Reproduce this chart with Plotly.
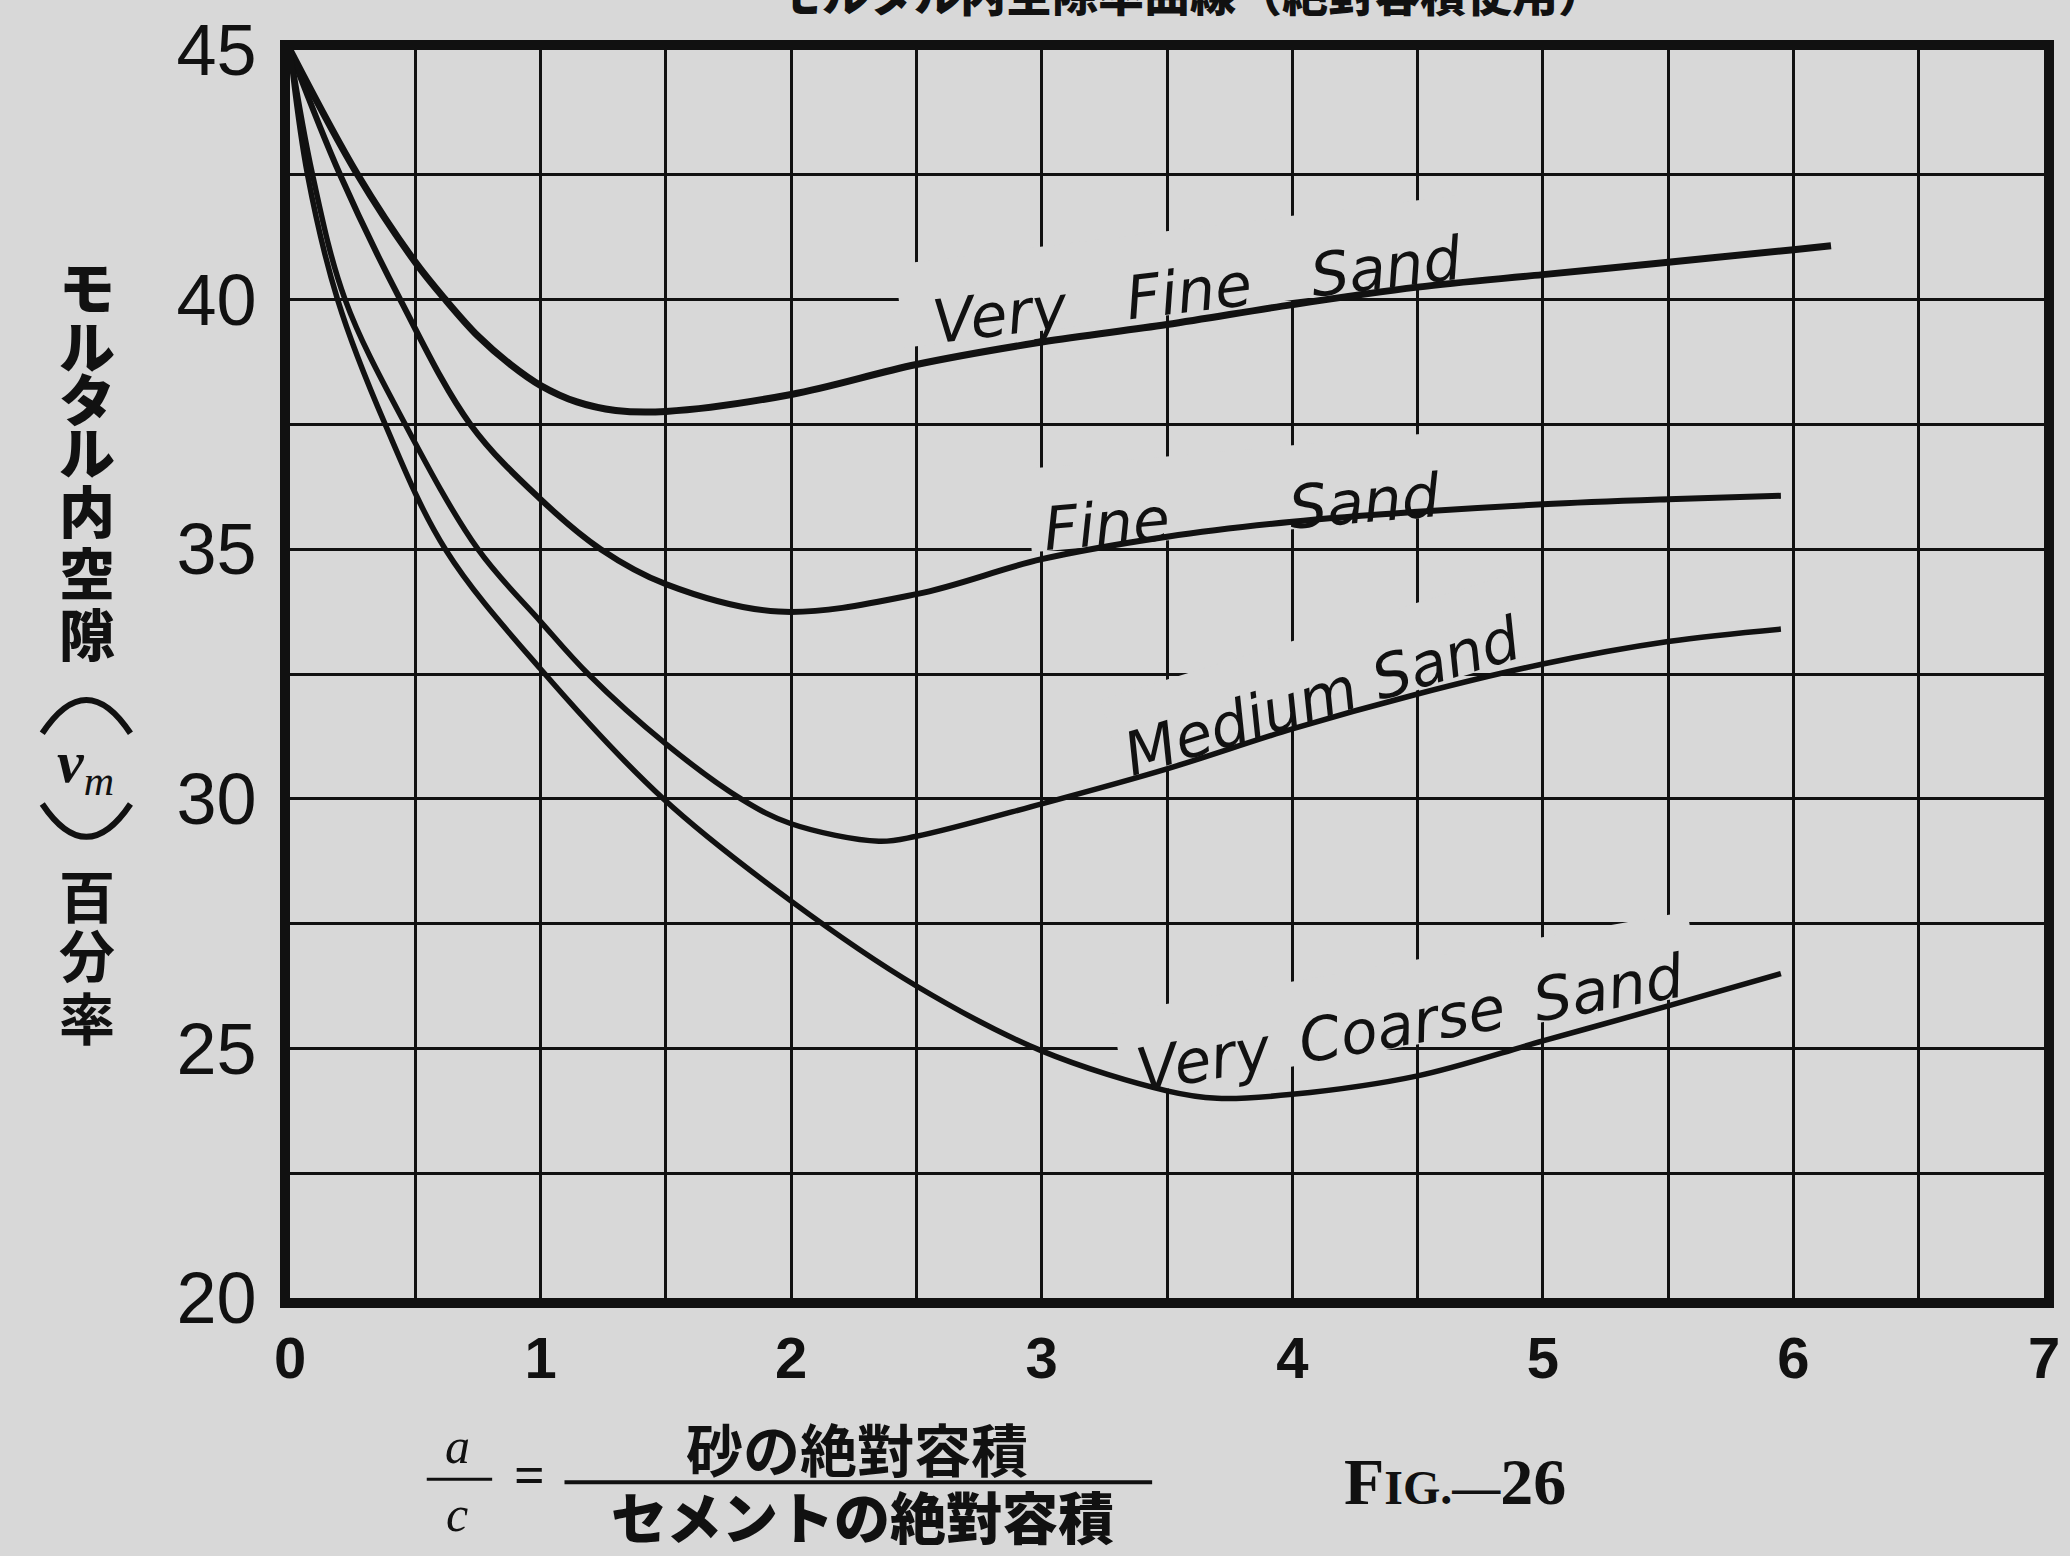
import math
import plotly.graph_objects as go

# Mortar void ratio (percent) against the sand / cement absolute-volume ratio a/c
x_very_fine = [0, 0.27, 0.5, 0.62, 0.75, 0.88, 1.0, 1.145, 1.3, 1.5, 2.0, 2.5, 3.0, 3.5, 4.0, 4.5, 5.0, 5.5, 6.0, 6.15]
y_very_fine = [45, 42.5, 40.75, 40.0, 39.27, 38.7, 38.28, 37.95, 37.78, 37.76, 38.1, 38.7, 39.15, 39.5, 39.9, 40.25, 40.5, 40.75, 41.0, 41.08]

x_fine = [0, 0.2, 0.44, 0.72, 1.0, 1.24, 1.5, 1.95, 2.5, 3.0, 3.5, 4.0, 4.5, 5.0, 5.5, 5.95]
y_fine = [45, 42.5, 40.0, 37.5, 36.0, 35.0, 34.3, 33.75, 34.1, 34.8, 35.25, 35.55, 35.75, 35.9, 36.0, 36.07]

x_medium = [0, 0.09, 0.22, 0.46, 0.75, 1.0, 1.19, 1.5, 1.8, 2.0, 2.35, 2.5, 3.0, 3.5, 4.0, 4.5, 5.0, 5.5, 5.95]
y_medium = [45, 42.5, 40.0, 37.5, 35.0, 33.55, 32.5, 31.1, 30.0, 29.5, 29.15, 29.25, 29.9, 30.6, 31.4, 32.1, 32.7, 33.15, 33.4]

x_coarse = [0, 0.07, 0.19, 0.38, 0.62, 1.0, 1.49, 2.0, 2.5, 3.0, 3.5, 3.7, 4.0, 4.5, 5.0, 5.5, 5.95]
y_coarse = [45, 42.5, 40.0, 37.5, 35.0, 32.6, 30.0, 27.95, 26.25, 24.95, 24.15, 24.0, 24.08, 24.45, 25.15, 25.85, 26.5]

series_names = ["Very Fine Sand", "Fine Sand", "Medium Sand", "Very Coarse Sand"]

x_ticks = [0, 1, 2, 3, 4, 5, 6, 7]
y_ticks = [20, 25, 30, 35, 40, 45]

y_title_top = "モルタル内空隙"
y_title_bottom = "百分率"
x_title_numerator = "砂の絶對容積"
x_title_denominator = "セメントの絶對容積"
figure_tag = "F<span style='font-size:48px'>IG.—</span>26"
page_heading = "モルタル内空隙率曲線（絶對容積使用）"

# ---------------------------------------------------------------- layout
W, H = 2070, 1556
L, R, T, B = 290, 10, 45, 258
PW, PH = W - L - R, H - T - B
X_RANGE = [0, 7]
Y_RANGE = [20, 45]
PX_PER_X = PW / (X_RANGE[1] - X_RANGE[0])
PX_PER_Y = PH / (Y_RANGE[1] - Y_RANGE[0])

PAPER = "#d8d8d8"
INK = "#111111"
CJK = "Noto Sans CJK JP"
NUM_FONT = "Liberation Sans, Arial, sans-serif"
HAND_FONT = "DejaVu Sans, sans-serif"
SERIF = "Liberation Serif, DejaVu Serif, serif"


def paper_x(px):
    return (px - L) / PW


def paper_y(py):
    return (H - B - py) / PH


fig = go.Figure()

curve_data = [
    (x_very_fine, y_very_fine, 7),
    (x_fine, y_fine, 6),
    (x_medium, y_medium, 5.5),
    (x_coarse, y_coarse, 5.5),
]
for name, (xs, ys, w) in zip(series_names, curve_data):
    fig.add_trace(go.Scatter(
        x=xs, y=ys, mode="lines", name=name, showlegend=False,
        line=dict(color=INK, width=w, shape="spline", smoothing=1.0),
        hoverinfo="skip",
    ))

# curve labels written along each curve: text, centre (data), rise angle, mask length
curve_labels = [
    ("Very\u2003Fine\u2003Sand", 3.62, 40.2, 7, 600),
    ("Fine\u2003\u2003Sand", 3.80, 35.75, 5, 430),
    ("Medium Sand", 4.12, 32.05, 17, 430),
    ("Very\u2002Coarse\u2002Sand", 4.47, 25.5, 10, 590),
]

shapes = []
annotations = []
for text, cx, cy, ang, length in curve_labels:
    a = math.radians(ang)
    ux, uy = math.cos(a), math.sin(a)
    vx, vy = -math.sin(a), math.cos(a)
    pts = []
    for s, t in [(-length / 2, -22), (length / 2, -22), (length / 2, 62), (-length / 2, 62)]:
        dx = s * ux + t * vx
        dy = s * uy + t * vy
        pts.append((cx + dx / PX_PER_X, cy + dy / PX_PER_Y))
    path = "M " + " L ".join(f"{p[0]:.4f},{p[1]:.4f}" for p in pts) + " Z"
    # blank the grid behind the lettering (curves stay on top)
    shapes.append(dict(type="path", path=path, xref="x", yref="y", layer="between",
                       fillcolor=PAPER, line=dict(width=0)))
    annotations.append(dict(
        text=text, x=cx, y=cy, xref="x", yref="y", showarrow=False,
        textangle=-ang, xanchor="center", yanchor="middle",
        font=dict(family=HAND_FONT, size=60, color=INK, style="italic"),
    ))

# vertical axis title, one character per line
top_centres = [280, 340, 393, 446, 505, 568, 629]
for ch, yc in zip(y_title_top, top_centres):
    annotations.append(dict(text=ch, x=paper_x(85), y=paper_y(yc), xref="paper", yref="paper",
                            showarrow=False, xanchor="center", yanchor="middle",
                            font=dict(family=CJK, size=56, color=INK, weight=900)))
bottom_centres = [892, 951, 1014]
for ch, yc in zip(y_title_bottom, bottom_centres):
    annotations.append(dict(text=ch, x=paper_x(85), y=paper_y(yc), xref="paper", yref="paper",
                            showarrow=False, xanchor="center", yanchor="middle",
                            font=dict(family=CJK, size=56, color=INK, weight=700)))
annotations.append(dict(text="<i><b>v</b><sub>m</sub></i>", x=paper_x(84), y=paper_y(764),
                        xref="paper", yref="paper", showarrow=False,
                        xanchor="center", yanchor="middle",
                        font=dict(family=SERIF, size=60, color=INK)))


def arc(x0, x1, y_end, y_ctrl):
    xm = (x0 + x1) / 2
    return dict(type="path", xref="paper", yref="paper", layer="above",
                path=f"M {paper_x(x0):.5f},{paper_y(y_end):.5f} "
                     f"Q {paper_x(xm):.5f},{paper_y(y_ctrl):.5f} {paper_x(x1):.5f},{paper_y(y_end):.5f}",
                line=dict(color=INK, width=6))


shapes.append(arc(40, 129, 731, 664))
shapes.append(arc(40, 129, 802, 868))

# horizontal axis title  a/c = numerator / denominator
annotations += [
    dict(text="<i>a</i>", x=paper_x(459), y=paper_y(1447), xref="paper", yref="paper",
         showarrow=False, xanchor="center", yanchor="middle",
         font=dict(family=SERIF, size=50, color=INK)),
    dict(text="<i>c</i>", x=paper_x(459), y=paper_y(1515), xref="paper", yref="paper",
         showarrow=False, xanchor="center", yanchor="middle",
         font=dict(family=SERIF, size=50, color=INK)),
    dict(text="=", x=paper_x(532), y=paper_y(1476), xref="paper", yref="paper",
         showarrow=False, xanchor="center", yanchor="middle",
         font=dict(family=SERIF, size=54, color=INK, weight=700)),
    dict(text=x_title_numerator, x=paper_x(862), y=paper_y(1448), xref="paper", yref="paper",
         showarrow=False, xanchor="center", yanchor="middle",
         font=dict(family=CJK, size=57, color=INK, weight=700)),
    dict(text=x_title_denominator, x=paper_x(868), y=paper_y(1515), xref="paper", yref="paper",
         showarrow=False, xanchor="center", yanchor="middle",
         font=dict(family=CJK, size=56, color=INK, weight=900)),
    dict(text=figure_tag, x=paper_x(1466), y=paper_y(1482), xref="paper", yref="paper",
         showarrow=False, xanchor="center", yanchor="middle",
         font=dict(family=SERIF, size=66, color=INK, weight=700)),
    dict(text=page_heading, x=paper_x(1198), y=paper_y(21), xref="paper", yref="paper",
         showarrow=False, xanchor="center", yanchor="bottom",
         font=dict(family=CJK, size=46, color=INK, weight=900)),
]
shapes.append(dict(type="line", xref="paper", yref="paper",
                   x0=paper_x(428), x1=paper_x(494), y0=paper_y(1480), y1=paper_y(1480),
                   line=dict(color=INK, width=3)))
shapes.append(dict(type="line", xref="paper", yref="paper",
                   x0=paper_x(567), x1=paper_x(1160), y0=paper_y(1483), y1=paper_y(1483),
                   line=dict(color=INK, width=4)))

axis_common = dict(
    showgrid=True, gridcolor=INK, gridwidth=3,
    showline=True, linecolor=INK, linewidth=10, mirror=True,
    ticks="", zeroline=False, fixedrange=True,
)
fig.update_xaxes(
    range=X_RANGE, tickmode="array", tickvals=x_ticks, ticktext=[str(v) for v in x_ticks],
    minor=dict(dtick=0.5, tick0=0, showgrid=True, gridcolor=INK, gridwidth=3),
    tickfont=dict(family=NUM_FONT, size=58, color=INK, weight=700),
    ticklabelstandoff=0, **axis_common,
)
fig.update_yaxes(
    range=Y_RANGE, tickmode="array", tickvals=y_ticks, ticktext=[str(v) for v in y_ticks],
    minor=dict(dtick=2.5, tick0=20, showgrid=True, gridcolor=INK, gridwidth=3),
    tickfont=dict(family=NUM_FONT, size=72, color=INK),
    ticklabelstandoff=9, **axis_common,
)

fig.update_layout(
    width=W, height=H,
    margin=dict(l=L, r=R, t=T, b=B, pad=0),
    paper_bgcolor=PAPER, plot_bgcolor=PAPER,
    shapes=shapes, annotations=annotations,
    showlegend=False,
)

fig.write_html("out.html")
